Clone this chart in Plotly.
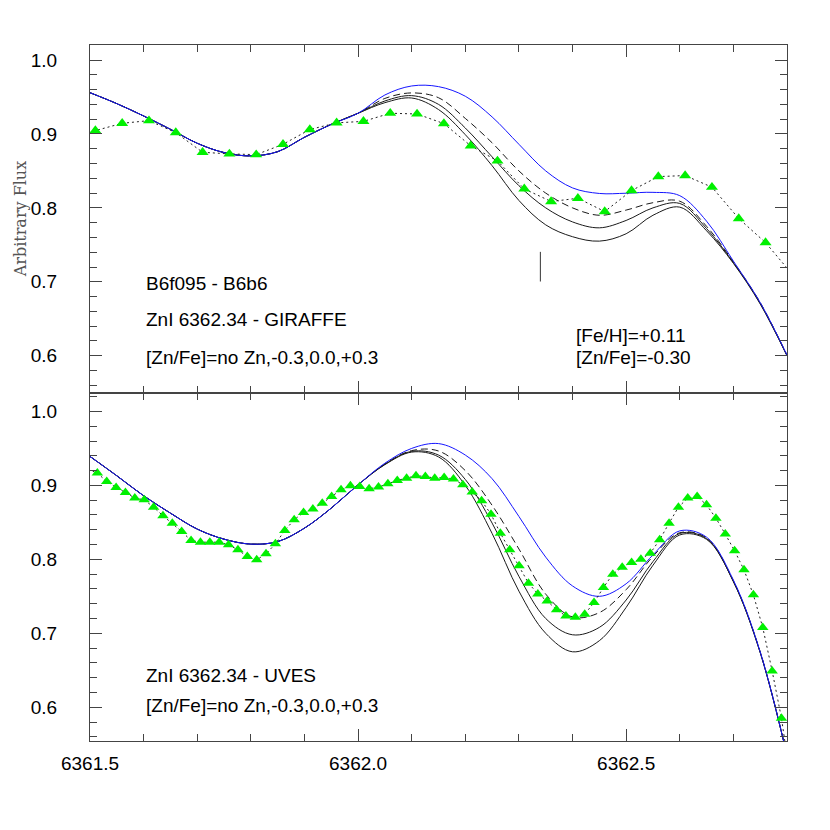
import plotly.graph_objects as go

# ---------------- data ----------------
model_wave = [6361.50, 6361.55, 6361.60, 6361.65, 6361.70, 6361.75, 6361.80, 6361.85, 6361.90,
              6361.95, 6362.00, 6362.05, 6362.10, 6362.15, 6362.20, 6362.25, 6362.30, 6362.35,
              6362.40, 6362.45, 6362.50, 6362.55, 6362.60, 6362.65, 6362.70, 6362.75, 6362.80]

# GIRAFFE panel (top) synthetic spectra
top_common = [0.9558, 0.9410, 0.9243, 0.9063, 0.8874, 0.8748, 0.8703, 0.8760, 0.8955, 0.9130, 0.9280]
top_nozn = top_common + [0.9527, 0.9649, 0.9640, 0.9510, 0.9230, 0.8860, 0.8500, 0.8270, 0.8195,
                         0.8198, 0.8210, 0.8165, 0.7820, 0.7280, 0.6720, 0.6010]
top_m03 = top_common + [0.9480, 0.9555, 0.9490, 0.9210, 0.8880, 0.8500, 0.8200, 0.8000, 0.7900,
                        0.7970, 0.8070, 0.8090, 0.7750, 0.7270, 0.6720, 0.6010]
top_00 = top_common + [0.9446, 0.9518, 0.9400, 0.9080, 0.8690, 0.8300, 0.8000, 0.7810, 0.7730,
                       0.7830, 0.8000, 0.8060, 0.7720, 0.7260, 0.6710, 0.6000]
top_p03 = top_common + [0.9423, 0.9486, 0.9330, 0.8990, 0.8570, 0.8100, 0.7770, 0.7610, 0.7550,
                        0.7650, 0.7900, 0.8010, 0.7690, 0.7250, 0.6700, 0.6000]

# GIRAFFE observed
top_obs_wave = [6361.51, 6361.56, 6361.61, 6361.66, 6361.71, 6361.76, 6361.81, 6361.86, 6361.91,
                6361.96, 6362.01, 6362.06, 6362.11, 6362.16, 6362.21, 6362.26, 6362.31, 6362.36,
                6362.41, 6362.46, 6362.51, 6362.56, 6362.61, 6362.66, 6362.71, 6362.76]
top_obs_flux = [0.9045, 0.9144, 0.9180, 0.9018, 0.8752, 0.8730, 0.8720, 0.8860, 0.9060,
                0.9150, 0.9170, 0.9280, 0.9270, 0.9140, 0.8840, 0.8635, 0.8257, 0.8086,
                0.8130, 0.7950, 0.8234, 0.8423, 0.8437, 0.8280, 0.7856, 0.7530]
top_obs_edge_wave = [6361.46, 6362.81]
top_obs_edge_flux = [0.8970, 0.7100]

# UVES panel (bottom) synthetic spectra
bot_common = [0.9391, 0.9130, 0.8860, 0.8625, 0.8409, 0.8273, 0.8206, 0.8240, 0.8422, 0.8693, 0.9008]
bot_nozn = bot_common + [0.9300, 0.9500, 0.9565, 0.9410, 0.9090, 0.8580, 0.8030, 0.7640, 0.7500,
                         0.7670, 0.8060, 0.8385, 0.8300, 0.7720, 0.6750, 0.5350]
bot_m03 = bot_common + [0.9290, 0.9470, 0.9465, 0.9200, 0.8730, 0.8140, 0.7530, 0.7220, 0.7280,
                        0.7590, 0.8040, 0.8360, 0.8290, 0.7710, 0.6750, 0.5350]
bot_00 = bot_common + [0.9285, 0.9460, 0.9410, 0.9080, 0.8490, 0.7770, 0.7200, 0.6980, 0.7080,
                       0.7450, 0.7970, 0.8350, 0.8280, 0.7700, 0.6740, 0.5350]
bot_p03 = bot_common + [0.9280, 0.9450, 0.9385, 0.9000, 0.8350, 0.7570, 0.7000, 0.6750, 0.6900,
                        0.7350, 0.7920, 0.8330, 0.8270, 0.7700, 0.6740, 0.5350]

# UVES observed
bot_obs_wave = [6361.5137, 6361.5312, 6361.5487, 6361.5661, 6361.5836, 6361.6011, 6361.6186, 6361.6361,
                6361.6535, 6361.6710, 6361.6885, 6361.7060, 6361.7235, 6361.7409, 6361.7584, 6361.7759,
                6361.7934, 6361.8109, 6361.8283, 6361.8458, 6361.8633, 6361.8808, 6361.8983, 6361.9157,
                6361.9332, 6361.9507, 6361.9682, 6361.9857, 6362.0031, 6362.0206, 6362.0381, 6362.0556,
                6362.0731, 6362.0905, 6362.1080, 6362.1255, 6362.1430, 6362.1605, 6362.1779, 6362.1954,
                6362.2129, 6362.2304, 6362.2479, 6362.2653, 6362.2828, 6362.3003, 6362.3178, 6362.3353,
                6362.3527, 6362.3702, 6362.3877, 6362.4052, 6362.4227, 6362.4401, 6362.4576, 6362.4751,
                6362.4926, 6362.5101, 6362.5275, 6362.5450, 6362.5625, 6362.5800, 6362.5975, 6362.6149,
                6362.6324, 6362.6499, 6362.6674, 6362.6849, 6362.7023, 6362.7198, 6362.7373, 6362.7548,
                6362.7723, 6362.7897]
bot_obs_flux = [0.9166, 0.9053, 0.8972, 0.8904, 0.8828, 0.8805, 0.8706, 0.8589, 0.8489, 0.8377,
                0.8255, 0.8232, 0.8232, 0.8232, 0.8196, 0.8129, 0.8038, 0.7993, 0.8074, 0.8210,
                0.8390, 0.8535, 0.8634, 0.8679, 0.8760, 0.8850, 0.8940, 0.8995, 0.8986, 0.8954,
                0.8977, 0.9022, 0.9067,
                0.9098, 0.9130, 0.9121, 0.9098, 0.9107, 0.9085, 0.9008, 0.8909, 0.8792, 0.8611,
                0.8354, 0.8129, 0.7912, 0.7678, 0.7533, 0.7438, 0.7317, 0.7235, 0.7217, 0.7258,
                0.7416, 0.7619, 0.7799, 0.7894, 0.7957, 0.8002, 0.8083, 0.8264, 0.8489, 0.8706,
                0.8828, 0.8850, 0.8737, 0.8557, 0.8341, 0.8115, 0.7858, 0.7520, 0.7078, 0.6491, 0.5851]
bot_obs_edge_wave = [6361.4963, 6362.8070]
bot_obs_edge_flux = [0.9220, 0.5000]

# Zn line marker
zn_line_wave = 6362.34
zn_line_flux = [0.7004, 0.7405]

x_ticks = [6361.5, 6362.0, 6362.5]
x_tick_text = ["6361.5", "6362.0", "6362.5"]
y_ticks = [0.6, 0.7, 0.8, 0.9, 1.0]
y_tick_text = ["0.6", "0.7", "0.8", "0.9", "1.0"]

# ---------------- styles ----------------
BLUE = "#1515ff"
BLACK = "#1a1a1a"
GREEN = "#00f000"
AXC = "#444444"
FONT = "Liberation Sans, Arial, sans-serif"

fig = go.Figure()


def add_panel(xa, ya, nozn, m03, z00, p03, obs_w, obs_f, edge_w, edge_f, msize):
    for ys, dash in ((p03, "solid"), (z00, "solid"), (m03, "7px,4px")):
        fig.add_trace(go.Scatter(x=model_wave, y=ys, mode="lines", xaxis=xa, yaxis=ya,
                                 line=dict(color=BLACK, width=1, dash=dash, shape="spline",
                                           smoothing=1.0),
                                 showlegend=False, hoverinfo="skip"))
    fig.add_trace(go.Scatter(x=model_wave, y=nozn, mode="lines", xaxis=xa, yaxis=ya,
                             line=dict(color=BLUE, width=1, shape="spline", smoothing=1.0),
                             showlegend=False, hoverinfo="skip"))
    lw = [edge_w[0]] + obs_w + [edge_w[1]]
    lf = [edge_f[0]] + obs_f + [edge_f[1]]
    fig.add_trace(go.Scatter(x=lw, y=lf, mode="lines", xaxis=xa, yaxis=ya,
                             line=dict(color="#222222", width=1, dash="2px,3px"),
                             showlegend=False, hoverinfo="skip"))
    fig.add_trace(go.Scatter(x=obs_w, y=obs_f, mode="markers", xaxis=xa, yaxis=ya,
                             marker=dict(symbol="triangle-up", size=msize, color=GREEN,
                                         line=dict(width=0)),
                             showlegend=False, hoverinfo="skip"))


add_panel("x2", "y2", top_nozn, top_m03, top_00, top_p03,
          top_obs_wave, top_obs_flux, top_obs_edge_wave, top_obs_edge_flux, 10.5)
add_panel("x", "y", bot_nozn, bot_m03, bot_00, bot_p03,
          bot_obs_wave, bot_obs_flux, bot_obs_edge_wave, bot_obs_edge_flux, 10)

fig.add_trace(go.Scatter(x=[zn_line_wave, zn_line_wave], y=zn_line_flux, mode="lines",
                         xaxis="x2", yaxis="y2", line=dict(color="#333333", width=1),
                         showlegend=False, hoverinfo="skip"))

xcommon = dict(range=[6361.5, 6362.8], tickvals=x_ticks, ticktext=x_tick_text,
               ticks="inside", ticklen=12, tickwidth=1, tickcolor=AXC,
               minor=dict(dtick=0.1, tick0=6361.5, ticks="inside", ticklen=7, tickcolor=AXC,
                          tickwidth=1, showgrid=False),
               showline=True, linecolor=AXC, linewidth=1, mirror="ticks",
               showgrid=False, zeroline=False,
               tickfont=dict(family=FONT, size=19, color="black"))
ycommon = dict(tickvals=y_ticks, ticktext=y_tick_text,
               ticks="inside", ticklen=12, tickwidth=1, tickcolor=AXC,
               minor=dict(dtick=0.02, tick0=0.5, ticks="inside", ticklen=7, tickcolor=AXC,
                          tickwidth=1, showgrid=False),
               showline=True, linecolor=AXC, linewidth=1, mirror="ticks",
               showgrid=False, zeroline=False, ticklabelstandoff=28,
               tickfont=dict(family=FONT, size=19, color="black"))

fig.update_layout(
    width=830, height=830,
    margin=dict(l=82, r=51, t=37, b=97),
    paper_bgcolor="white", plot_bgcolor="white",
    xaxis=dict(**xcommon, anchor="y", domain=[0, 1], ticklabelstandoff=5),
    xaxis2=dict(**xcommon, anchor="y2", domain=[0, 1], matches="x", showticklabels=False),
    yaxis=dict(**ycommon, anchor="x", domain=[0, 0.5], range=[0.5544, 1.0249]),
    yaxis2=dict(**ycommon, anchor="x2", domain=[0.5, 1], range=[0.5496, 1.0203]),
)

txt = dict(family=FONT, size=19, color="black")
annos = [
    ("B6f095 - B6b6", 6361.601, 0.698, "x2", "y2"),
    ("ZnI 6362.34 - GIRAFFE", 6361.601, 0.649, "x2", "y2"),
    ("[Zn/Fe]=no Zn,-0.3,0.0,+0.3", 6361.601, 0.597, "x2", "y2"),
    ("[Fe/H]=+0.11", 6362.402, 0.627, "x2", "y2"),
    ("[Zn/Fe]=-0.30", 6362.402, 0.597, "x2", "y2"),
    ("ZnI 6362.34 - UVES", 6361.601, 0.643, "x", "y"),
    ("[Zn/Fe]=no Zn,-0.3,0.0,+0.3", 6361.601, 0.603, "x", "y"),
]
for t, xx, yy, xr, yr in annos:
    fig.add_annotation(text=t, x=xx, y=yy, xref=xr, yref=yr, xanchor="left", yanchor="middle",
                       showarrow=False, font=txt)

fig.add_annotation(text="Arbitrary Flux", x=-0.1, y=0.75, xref="paper", yref="paper",
                   xanchor="center", yanchor="middle", textangle=-90, showarrow=False,
                   font=dict(family="DejaVu Serif, serif", size=16, color="#555555"))

fig.write_html("out.html")
